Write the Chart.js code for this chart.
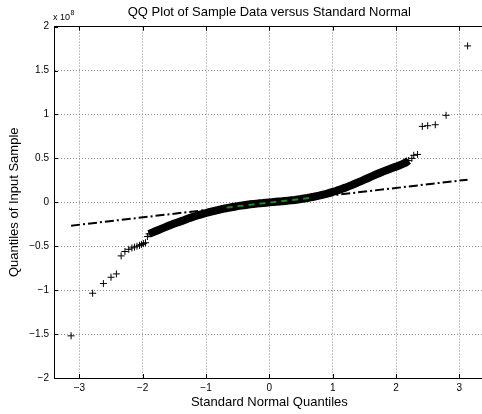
<!DOCTYPE html>
<html lang="en">
<head>
<meta charset="UTF-8">
<title>QQ Plot</title>
<script src="https://cdn.jsdelivr.net/npm/chart.js"></script>
<style>
  html, body { margin: 0; padding: 0; background: #fff; overflow: hidden; }
  .chartBox { position: relative; width: 490px; height: 414px; }
</style>
</head>
<body>
<div class="chartBox">
  <canvas id="myChart"></canvas>
</div>
<script>
// standard normal quantiles (x) and sample quantiles (y, in units of 1e8)
const normQ = [
  -3.13, -2.79, -2.62, -2.50, -2.415, -2.34, -2.28, -2.22, -2.17, -2.13,
  -2.09, -2.05, -2.02, -1.985, -1.955, -1.925,
  -1.90, -1.85, -1.80, -1.75, -1.70, -1.65, -1.60, -1.55, -1.50, -1.45,
  -1.40, -1.35, -1.30, -1.25, -1.20, -1.15, -1.10, -1.05, -1.00, -0.95,
  -0.90, -0.85, -0.80, -0.75, -0.70, -0.65, -0.60, -0.55, -0.50, -0.45,
  -0.40, -0.35, -0.30, -0.25, -0.20, -0.15, -0.10, -0.05, 0.00, 0.05,
  0.10, 0.15, 0.20, 0.25, 0.30, 0.35, 0.40, 0.45, 0.50, 0.55,
  0.60, 0.65, 0.70, 0.75, 0.80, 0.85, 0.90, 0.95, 1.00, 1.05,
  1.10, 1.15, 1.20, 1.25, 1.30, 1.35, 1.40, 1.45, 1.50, 1.55,
  1.60, 1.65, 1.70, 1.75, 1.80, 1.85, 1.90, 1.95, 2.00, 2.05,
  2.10, 2.15, 2.20, 2.25, 2.28, 2.34, 2.415, 2.50, 2.62, 2.79, 3.13
];
const sampleQ = [
  -1.52, -1.035, -0.925, -0.853, -0.815, -0.61, -0.56, -0.535, -0.52, -0.51,
  -0.50, -0.49, -0.48, -0.47, -0.46, -0.39,
  -0.36, -0.345, -0.33, -0.315, -0.30, -0.285, -0.27, -0.255, -0.242, -0.23,
  -0.217, -0.204, -0.19, -0.177, -0.165, -0.153, -0.142, -0.132, -0.122, -0.112,
  -0.103, -0.094, -0.086, -0.078, -0.07, -0.063, -0.056, -0.05, -0.044, -0.038,
  -0.033, -0.028, -0.023, -0.019, -0.015, -0.011, -0.008, -0.004, -0.001, 0.002,
  0.005, 0.008, 0.011, 0.015, 0.019, 0.023, 0.027, 0.032, 0.037, 0.043,
  0.049, 0.056, 0.063, 0.071, 0.079, 0.088, 0.097, 0.107, 0.118, 0.129,
  0.141, 0.154, 0.167, 0.181, 0.196, 0.211, 0.226, 0.242, 0.258, 0.274,
  0.29, 0.306, 0.322, 0.337, 0.352, 0.366, 0.38, 0.393, 0.406, 0.42,
  0.434, 0.45, 0.475, 0.50, 0.535, 0.545, 0.864, 0.872, 0.883, 0.99, 1.78
];
// reference line: extrapolated (dash-dot) and between quartiles
const refX = [-3.13, 3.13];
const refY = [-0.266, 0.258];
const quartX = [-0.674, 0.674];
const quartY = [-0.060, 0.052];

const xTicks = [-3, -2, -1, 0, 1, 2, 3];
const yTicks = [-2, -1.5, -1, -0.5, 0, 0.5, 1, 1.5, 2];
const exponent = 8;

const pts = normQ.map((x, i) => ({x: x, y: sampleQ[i]}));
// the dense middle where the markers merge into a solid band
const band = pts.filter(p => p.x >= -1.92 && p.x <= 2.2);

function fmt(v) {
  return String(v).replace('-', '\u2212');
}

const fontFam = "'Liberation Sans', Arial, Helvetica, sans-serif";

const insideTicks = {
  id: 'insideTicks',
  afterDatasetsDraw(chart) {
    const {ctx, chartArea: a, scales} = chart;
    ctx.save();
    ctx.strokeStyle = '#000';
    ctx.lineWidth = 1;
    ctx.beginPath();
    xTicks.forEach(v => {
      const px = Math.round(scales.x.getPixelForValue(v)) + 0.5;
      ctx.moveTo(px, a.bottom); ctx.lineTo(px, a.bottom - 4);
      ctx.moveTo(px, a.top); ctx.lineTo(px, a.top + 4);
    });
    yTicks.forEach(v => {
      const py = Math.round(scales.y.getPixelForValue(v)) + 0.5;
      ctx.moveTo(a.left, py); ctx.lineTo(a.left + 4, py);
    });
    ctx.stroke();
    // exponent label above the y axis
    ctx.fillStyle = '#000';
    ctx.textBaseline = 'alphabetic';
    ctx.font = '9px ' + fontFam;
    ctx.fillText('x 10', a.left - 1, a.top - 7);
    const w = ctx.measureText('x 10').width;
    ctx.font = '7px ' + fontFam;
    ctx.fillText(String(exponent), a.left - 1 + w + 0.5, a.top - 12);
    ctx.restore();
  }
};

const data = {
  datasets: [
    {
      label: 'band',
      data: band,
      showLine: true,
      borderColor: '#000',
      borderWidth: 8,
      pointRadius: 0,
      order: 3
    },
    {
      label: 'Sample',
      data: pts,
      showLine: false,
      pointStyle: 'cross',
      pointRadius: 3.5,
      borderColor: '#000',
      borderWidth: 1,
      order: 2
    },
    {
      label: 'Fit',
      data: refX.map((x, i) => ({x: x, y: refY[i]})),
      showLine: true,
      borderColor: '#000',
      borderWidth: 2,
      borderDash: [9, 3, 2, 3],
      pointRadius: 0,
      order: 1
    },
    {
      label: 'Quartiles',
      data: quartX.map((x, i) => ({x: x, y: quartY[i]})),
      showLine: true,
      borderColor: '#1a8a1a',
      borderWidth: 2,
      borderDash: [6, 5],
      pointRadius: 0,
      order: 0
    }
  ]
};

const config = {
  type: 'scatter',
  data,
  options: {
    responsive: true,
    maintainAspectRatio: false,
    animation: false,
    layout: { padding: { left: 0, right: 5.3, top: 0, bottom: 0 } },
    plugins: {
      legend: { display: false },
      tooltip: { enabled: false },
      title: {
        display: true,
        fullSize: false,
        text: 'QQ Plot of Sample Data versus Standard Normal',
        color: '#000',
        font: { family: fontFam, size: 13, weight: 'normal' },
        padding: { top: 5, bottom: 6 }
      }
    },
    scales: {
      x: {
        type: 'linear',
        min: -3.4,
        max: 3.4,
        afterFit: s => { s.height = 36; },
        afterBuildTicks: s => { s.ticks = xTicks.map(v => ({value: v})); },
        ticks: {
          includeBounds: false,
          color: '#000',
          padding: 4,
          maxRotation: 0,
          font: { family: fontFam, size: 10 },
          callback: v => fmt(v)
        },
        grid: { color: '#8c8c8c', lineWidth: 1, drawTicks: false },
        border: { color: '#000', width: 1, dash: [1, 2] },
        title: {
          display: true,
          text: 'Standard Normal Quantiles',
          color: '#000',
          font: { family: fontFam, size: 13 },
          padding: { top: 0, bottom: 3.7 }
        }
      },
      x2: {
        type: 'linear',
        position: 'top',
        min: -3.4,
        max: 3.4,
        afterFit: s => { s.height = 0; },
        ticks: { display: false },
        grid: { display: false, drawTicks: false },
        border: { display: true, color: '#000', width: 1 }
      },
      y: {
        type: 'linear',
        min: -2,
        max: 2,
        afterFit: s => { s.width = 54; },
        afterBuildTicks: s => { s.ticks = yTicks.map(v => ({value: v})); },
        ticks: {
          color: '#000',
          padding: 5,
          font: { family: fontFam, size: 10 },
          callback: v => fmt(v)
        },
        grid: { color: '#8c8c8c', lineWidth: 1, drawTicks: false },
        border: { color: '#000', width: 1, dash: [1, 2] },
        title: {
          display: true,
          text: 'Quantiles of Input Sample',
          color: '#000',
          font: { family: fontFam, size: 13 },
          padding: { top: 6.2, bottom: 0 }
        }
      }
    }
  },
  plugins: [insideTicks]
};

const myChart = new Chart(document.getElementById('myChart'), config);
</script>
</body>
</html>
